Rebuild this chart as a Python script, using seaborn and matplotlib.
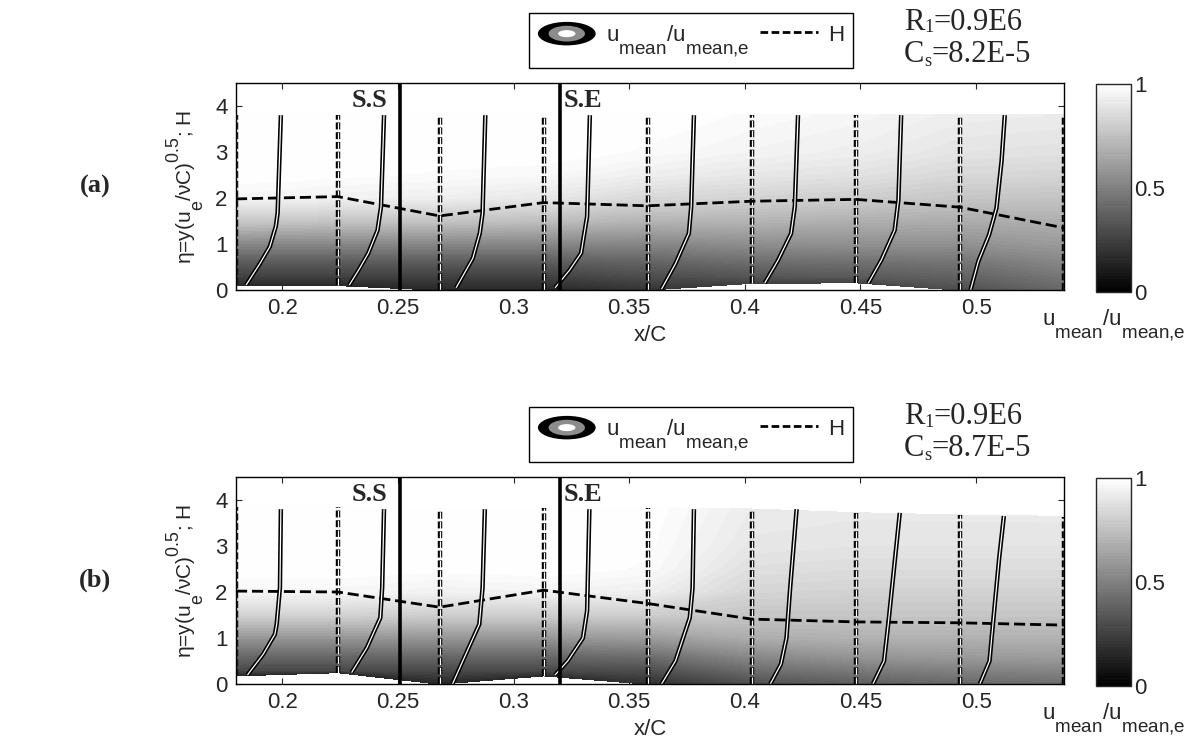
import numpy as np
import matplotlib
matplotlib.use("Agg")
import matplotlib.pyplot as plt
import seaborn as sns
from matplotlib.legend_handler import HandlerBase
from matplotlib.patches import Ellipse, Patch
from matplotlib.lines import Line2D

# MATLAB-like bigger, lower subscripts and higher superscripts
try:
    import matplotlib._mathtext as _mt
    _mt.SHRINK_FACTOR = 0.85
    _mt.FontConstantsBase.sub1 = 1.1
    _mt.FontConstantsBase.sup1 = 1.1
except Exception:
    pass

# measuring stations along the chord (x/C) and separation markers
stations = [0.18, 0.224, 0.268, 0.313, 0.358, 0.403, 0.448, 0.493, 0.538]
sep_x = [0.251, 0.320]
sep_labels = ["S.S", "S.E"]
eta_levels = [0.3, 0.6, 1.0, 1.5, 2.0, 2.5, 3.0]
xticks = [0.2, 0.25, 0.3, 0.35, 0.4, 0.45, 0.5]
xticklabels = ["0.2", "0.25", "0.3", "0.35", "0.4", "0.45", "0.5"]
prof_scale = 0.02

# ---- case (a): Cs = 8.2E-5
wall_a = [0.1, 0.1, 0.0, 0.0, 0.0, 0.15, 0.16, 0.0, 0.0]
top_a = [3.8, 3.8, 3.8, 3.8, 3.8, 3.8, 3.8, 3.8, 3.8]
h_a = [1.98, 2.03, 1.61, 1.90, 1.83, 1.93, 1.97, 1.80, 1.35]
field_a = [
    [0.15, 0.15, 0.15, 0.15, 0.20, 0.25, 0.25, 0.30, 0.40],
    [0.25, 0.25, 0.25, 0.25, 0.30, 0.33, 0.35, 0.38, 0.46],
    [0.35, 0.35, 0.35, 0.35, 0.38, 0.42, 0.43, 0.45, 0.52],
    [0.52, 0.52, 0.52, 0.52, 0.52, 0.55, 0.56, 0.56, 0.60],
    [0.78, 0.76, 0.76, 0.74, 0.70, 0.70, 0.68, 0.67, 0.68],
    [0.96, 0.94, 0.93, 0.90, 0.84, 0.82, 0.80, 0.77, 0.76],
    [1.00, 0.99, 0.98, 0.97, 0.93, 0.90, 0.88, 0.84, 0.83],
    [1.00, 1.00, 1.00, 1.00, 0.98, 0.95, 0.93, 0.89, 0.88],
    [1.00, 1.00, 1.00, 1.00, 1.00, 0.98, 0.96, 0.93, 0.92],
]
prof_eta_a = [
    [0.11, 0.58, 0.94, 1.38, 1.67, 3.8],
    [0.11, 0.45, 0.8, 1.3, 1.81, 3.8],
    [0.05, 0.69, 1.23, 1.67, 3.8],
    [0.05, 0.43, 0.8, 1.6, 3.8],
    [0.02, 0.57, 1.23, 1.81, 3.8],
    [0.15, 0.65, 1.23, 1.81, 3.8],
    [0.15, 0.65, 1.3, 1.96, 3.8],
    [0.0, 0.63, 1.2, 1.78, 2.8, 3.8],
]
prof_u_a = [
    [0.22, 0.52, 0.73, 0.86, 0.90, 0.97],
    [0.25, 0.46, 0.66, 0.86, 0.935, 1.0],
    [0.36, 0.72, 0.87, 0.93, 0.99],
    [0.25, 0.56, 0.81, 0.94, 1.0],
    [0.30, 0.60, 0.89, 0.94, 1.0],
    [0.28, 0.57, 0.85, 0.93, 1.0],
    [0.27, 0.55, 0.84, 0.92, 0.98],
    [0.23, 0.40, 0.63, 0.79, 0.90, 0.97],
]

# ---- case (b): Cs = 8.7E-5
wall_b = [0.18, 0.25, 0.0, 0.18, 0.0, 0.0, 0.0, 0.0, 0.0]
top_b = [3.85, 3.85, 3.8, 3.82, 3.83, 3.8, 3.72, 3.67, 3.64]
h_b = [2.02, 2.0, 1.67, 2.04, 1.75, 1.41, 1.35, 1.33, 1.28]
field_b = [
    [0.15, 0.15, 0.15, 0.15, 0.18, 0.30, 0.36, 0.40, 0.42],
    [0.28, 0.28, 0.28, 0.28, 0.30, 0.42, 0.47, 0.50, 0.52],
    [0.40, 0.40, 0.40, 0.40, 0.42, 0.53, 0.58, 0.60, 0.61],
    [0.58, 0.58, 0.58, 0.58, 0.60, 0.67, 0.69, 0.69, 0.69],
    [0.82, 0.82, 0.80, 0.80, 0.80, 0.77, 0.77, 0.77, 0.77],
    [0.96, 0.96, 0.94, 0.95, 0.93, 0.83, 0.82, 0.82, 0.82],
    [1.00, 1.00, 0.99, 1.00, 0.98, 0.87, 0.86, 0.86, 0.86],
    [1.00, 1.00, 1.00, 1.00, 0.99, 0.90, 0.89, 0.89, 0.89],
    [1.00, 1.00, 1.00, 1.00, 1.00, 0.92, 0.91, 0.91, 0.91],
]
prof_eta_b = [
    [0.2, 0.65, 1.08, 1.3, 2.09, 3.8],
    [0.25, 0.79, 1.44, 2.1, 3.8],
    [0.0, 0.72, 1.3, 2.09, 3.8],
    [0.2, 0.5, 1.0, 1.59, 3.8],
    [0.0, 0.5, 1.44, 2.09, 3.8],
    [0.0, 0.43, 1.0, 2.09, 3.8],
    [0.0, 0.5, 1.3, 2.46, 3.72],
    [0.0, 0.5, 1.37, 2.75, 3.65],
]
prof_u_b = [
    [0.25, 0.59, 0.84, 0.88, 0.95, 0.97],
    [0.30, 0.63, 0.92, 0.96, 1.0],
    [0.28, 0.60, 0.86, 0.93, 0.98],
    [0.25, 0.52, 0.85, 0.94, 0.99],
    [0.30, 0.60, 0.91, 0.97, 1.0],
    [0.40, 0.63, 0.75, 0.83, 0.97],
    [0.37, 0.61, 0.70, 0.82, 0.95],
    [0.43, 0.64, 0.72, 0.85, 0.95],
]

sns.set_style("ticks")
plt.rcParams["font.family"] = ["Liberation Sans", "DejaVu Sans"]
plt.rcParams["mathtext.fontset"] = "custom"
plt.rcParams["mathtext.rm"] = "Liberation Sans"
plt.rcParams["mathtext.it"] = "Liberation Sans:italic"
plt.rcParams["mathtext.bf"] = "Liberation Sans:bold"
plt.rcParams["lines.scale_dashes"] = False

W, H = 1193, 747
fig = plt.figure(figsize=(W / 100, H / 100), dpi=100)


def fx(px):
    return px / W


def fy(py):
    return 1 - py / H


class ContourHandler(HandlerBase):
    def create_artists(self, legend, orig_handle, xdescent, ydescent,
                       width, height, fontsize, trans):
        cx, cy = width / 2 - xdescent, height / 2 - ydescent
        outer = Ellipse((cx, cy), width, height, fc="black", ec="none", transform=trans)
        mid = Ellipse((cx, cy), width * 0.63, height * 0.67, fc="0.55", ec="none", transform=trans)
        inner = Ellipse((cx, cy), width * 0.3, height * 0.3, fc="white", ec="none", transform=trans)
        return [outer, mid, inner]


def serif_sub(ax, x, y, main, sub, rest, size=22):
    # Times-like text with a small subscript, e.g. R1=0.9E6
    t1 = fig.text(x, y, main, family="Liberation Serif", fontsize=size, va="center")
    t2 = ax.annotate(sub, xy=(1, 0), xycoords=t1, va="bottom", ha="left",
                     family="Liberation Serif", fontsize=size * 0.6)
    ax.annotate(rest, xy=(1, 0), xycoords=t2, va="bottom", ha="left",
                family="Liberation Serif", fontsize=size)


cbar_label = "u$_\\mathrm{mean}$/u$_\\mathrm{mean{,}e}$"


def draw_panel(y0, wall, top, field, h_vals, p_eta, p_u, tag, cs_val):
    ax = fig.add_axes([fx(236), fy(y0 + 207), (1064 - 236) / W, 207 / H])
    cax = fig.add_axes([fx(1096), fy(y0 + 209), 35 / W, 208 / H])

    n = len(stations)
    Y = np.vstack([wall] + [np.full(n, e) for e in eta_levels] + [top])
    X = np.tile(stations, (Y.shape[0], 1))
    Z = np.clip(np.array(field), 0, 1)
    cs = ax.contourf(X, Y, Z, levels=np.linspace(0, 1, 65), cmap="gray", vmin=0, vmax=1)
    cs.set_edgecolor("face")
    cs.set_linewidth(0.3)

    # station reference lines (double dashed)
    ax.vlines(stations, wall, top, colors="k", lw=3.2, linestyles=[(0, (5, 2))])
    ax.vlines(stations, wall, top, colors="w", lw=0.9, linestyles=[(0, (5, 2))])

    sns.lineplot(x=stations, y=h_vals, ax=ax, color="k", lw=2,
                 linestyle=(0, (8, 3.5)), legend=False)

    for s, e, u in zip(stations, p_eta, p_u):
        xs = s + prof_scale * np.array(u)
        ax.plot(xs, e, color="k", lw=3.2, solid_capstyle="butt")
        ax.plot(xs, e, color="w", lw=0.9, solid_capstyle="butt")

    for xv in sep_x:
        ax.axvline(xv, color="k", lw=2.6)
    ax.text(0.2455, 4.12, sep_labels[0], ha="right", va="center",
            family="Liberation Serif", weight="bold", fontsize=19)
    ax.text(0.3215, 4.12, sep_labels[1], ha="left", va="center",
            family="Liberation Serif", weight="bold", fontsize=19)

    ax.set_xlim(0.18, 0.538)
    ax.set_ylim(0, 4.5)
    ax.set_xticks(xticks)
    ax.set_xticklabels(xticklabels)
    ax.set_yticks([0, 1, 2, 3, 4])
    ax.tick_params(direction="in", top=True, right=True, length=4, width=0.8,
                   labelsize=16, pad=6)
    for sp in ax.spines.values():
        sp.set_linewidth(1)
        sp.set_color("k")
    ax.set_xlabel("x/C", fontsize=16, labelpad=4)
    ax.set_ylabel("η=y(u$_\\mathrm{e}$/νC)$^\\mathrm{0.5}$; H", fontsize=15, labelpad=6)

    cb = fig.colorbar(cs, cax=cax, ticks=[0, 0.5, 1])
    cb.ax.set_yticklabels(["0", "0.5", "1"])
    cax.tick_params(direction="in", length=3, labelsize=16, left=True, right=True, pad=2)
    cb.outline.set_linewidth(1)
    cax.set_xlabel(cbar_label, fontsize=16, labelpad=11)

    handles = [Patch(), Line2D([], [], color="k", lw=2, linestyle=(0, (5.5, 2.5)))]
    fig.legend(handles, [cbar_label, "H"], handler_map={Patch: ContourHandler()},
               loc="upper left", bbox_to_anchor=(fx(529), fy(y0 - 70)), ncol=2,
               fontsize=16, handlelength=2.6, handleheight=1.25, handletextpad=0.45,
               columnspacing=0.5, borderpad=0.4, borderaxespad=0, fancybox=False,
               framealpha=1, edgecolor="k")

    serif_sub(ax, fx(904), fy(y0 - 61), "R", "1", "=0.9E6")
    serif_sub(ax, fx(904), fy(y0 - 28), "C", "s", cs_val)
    fig.text(fx(95), fy(y0 + 103), tag, family="Liberation Serif", weight="bold",
             fontsize=19, ha="center", va="center")


draw_panel(83, wall_a, top_a, field_a, h_a, prof_eta_a, prof_u_a, "(a)", "=8.2E-5")
draw_panel(477, wall_b, top_b, field_b, h_b, prof_eta_b, prof_u_b, "(b)", "=8.7E-5")

fig.savefig("out.png", dpi=100)
